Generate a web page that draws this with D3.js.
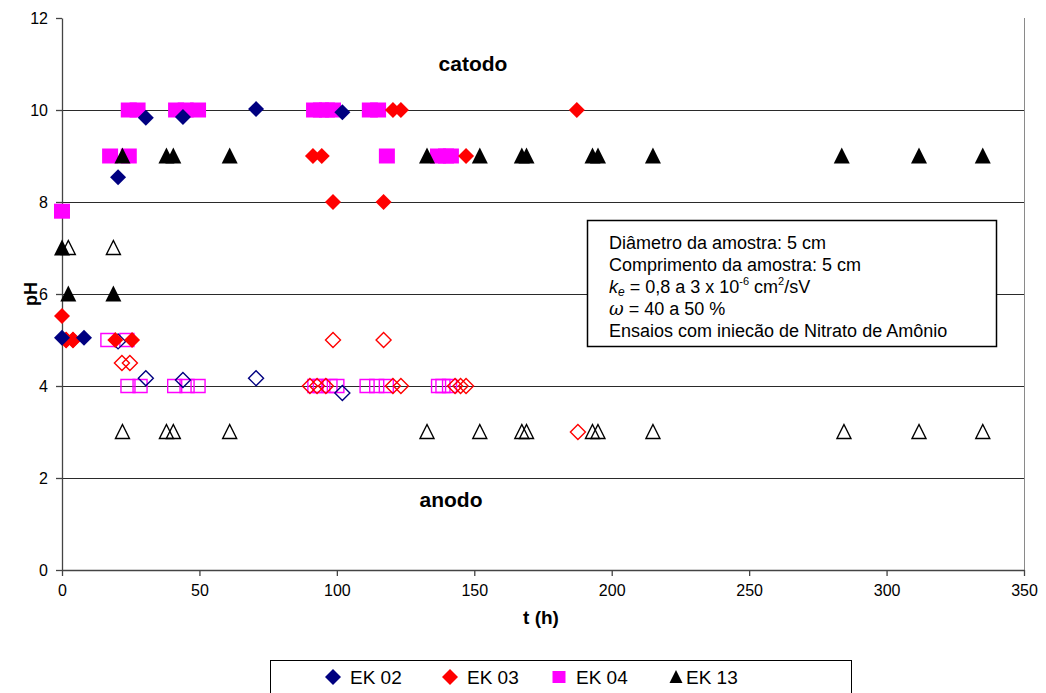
<!DOCTYPE html>
<html>
<head>
<meta charset="utf-8">
<script src="https://cdn.jsdelivr.net/npm/d3@7"></script>
<style>
  body { margin: 0; background: #fff; }
  svg { font-family: Arial, "Liberation Sans", sans-serif; }
  .tick text { font-size: 16px; fill: #000; }
  .lbl { font-weight: bold; fill: #000; }
</style>
</head>
<body>
<div id="chart"></div>
<script>
// EK 02 (diamante azul) - catodo (cheio) e anodo (vazado)
var ek02T = [0, 8, 20.4, 30.5, 44, 70.6, 102];
var ek02Cat = [5.05, 5.05, 8.54, 9.83, 9.85, 10.02, 9.95];
var ek02AnT = [20.4, 30.5, 44, 70.6, 102];
var ek02An = [4.97, 4.17, 4.13, 4.17, 3.85];

// EK 03 (diamante vermelho)
var ek03T = [0, 1.5, 4, 19.4, 25.5, 91.3, 94.5, 98.6, 117, 120.4, 123.3, 147, 187.3];
var ek03Cat = [5.52, 5, 5, 5, 5, 9, 9, 8, 8, 10, 10, 9, 10];
var ek03AnT = [1.5, 4, 21.8, 24.7, 90.2, 92.8, 96, 98.6, 117, 120.4, 123.3, 143, 145, 147, 187.7];
var ek03An = [5, 5, 4.5, 4.5, 4, 4, 4, 5, 5, 4, 4, 4, 4, 4, 3];

// EK 04 (quadrado magenta)
var ek04T = [0, 17.5, 24.3, 24.3, 27.5, 41.5, 45, 49.5, 91.7, 94.2, 96.4, 98.6, 112, 115, 118.2, 136.8, 139.7, 141.5];
var ek04Cat = [7.8, 9, 9, 10, 10, 10, 10, 10, 10, 10, 10, 10, 10, 10, 9, 9, 9, 9];
var ek04AnT = [16.7, 23.6, 24, 28.4, 41, 45.5, 49.5, 92, 94, 97.5, 100, 111, 114.5, 118, 137, 138.6, 141];
var ek04An = [5, 5, 4, 4, 4, 4, 4, 4, 4, 4, 4, 4, 4, 4, 4, 4, 4];

// EK 13 (triangulo preto)
var ek13T = [0, 2.3, 18.7, 22, 38, 40.5, 61, 132.8, 152, 167.3, 169, 193, 195, 215, 283.7, 311.8, 335];
var ek13Cat = [7, 6, 6, 9, 9, 9, 9, 9, 9, 9, 9, 9, 9, 9, 9, 9, 9];
var ek13AnT = [2.3, 18.7, 22, 38, 40.5, 61, 132.8, 152, 167.3, 169, 193, 195, 215, 284.5, 311.8, 335];
var ek13An = [7, 7, 3, 3, 3, 3, 3, 3, 3, 3, 3, 3, 3, 3, 3, 3];

var xTicks = [0, 50, 100, 150, 200, 250, 300, 350];
var yTicks = [0, 2, 4, 6, 8, 10, 12];
var gridY = [2, 4, 6, 8, 10];

var seriesNames = ["EK 02", "EK 03", "EK 04", "EK 13"];
var seriesColors = ["#000080", "#ff0000", "#ff00ff", "#000000"];
var seriesShapes = ["diamond", "diamond", "square", "triangle"];

var infoLines = [
  "Diâmetro da amostra: 5 cm",
  "Comprimento da amostra: 5 cm",
  "ke",
  "omega",
  "Ensaios com injeção de Nitrato de Amônio"
];

function markerPath(shape, s) {
  if (shape === "diamond") {
    return "M0," + (-s) + "L" + s + ",0L0," + s + "L" + (-s) + ",0Z";
  }
  if (shape === "square") {
    return "M" + (-s) + "," + (-s + 0.5) + "H" + s + "V" + (s - 0.5) + "H" + (-s) + "Z";
  }
  return "M0," + (-s) + "L" + (s - 0.5) + "," + (s - 1) + "L" + (-s + 0.5) + "," + (s - 1) + "Z";
}

function ChartPH() {
  this.width = 1046;
  this.height = 693;
  this.svg = d3.select("#chart").append("svg")
    .attr("width", this.width).attr("height", this.height);

  this.x = d3.scaleLinear().domain([0, 350]).range([62, 1024]);
  this.y = d3.scaleLinear().domain([0, 12]).range([570, 18]);

  this.drawAxes = function () {
    var x = this.x, y = this.y, svg = this.svg;

    svg.append("g").selectAll("line").data(gridY).enter()
      .append("line")
      .attr("x1", x(0)).attr("x2", x(350))
      .attr("y1", function (d) { return y(d) + 0.5; })
      .attr("y2", function (d) { return y(d) + 0.5; })
      .attr("stroke", "#2a2a2a").attr("stroke-width", 1)
      .attr("shape-rendering", "crispEdges");

    // right border of plot area
    svg.append("line")
      .attr("x1", x(350) + 0.5).attr("x2", x(350) + 0.5)
      .attr("y1", y(12)).attr("y2", y(0))
      .attr("stroke", "#8a8a8a").attr("stroke-width", 1)
      .attr("shape-rendering", "crispEdges");

    var xAxis = d3.axisBottom(x).tickValues(xTicks).tickSize(6).tickPadding(9).tickSizeOuter(0);
    var yAxis = d3.axisLeft(y).tickValues(yTicks).tickSize(6).tickPadding(8).tickSizeOuter(0);

    var gx = svg.append("g").attr("transform", "translate(0," + y(0) + ")").call(xAxis);
    var gy = svg.append("g").attr("transform", "translate(" + x(0) + ",0)").call(yAxis);
    [gx, gy].forEach(function (g) {
      g.selectAll("path, line").attr("stroke", "#444").attr("stroke-width", 1.3);
      g.selectAll("text").attr("font-family", "Arial, 'Liberation Sans', sans-serif");
    });

    svg.append("text").attr("class", "lbl")
      .attr("transform", "translate(37," + y(6) + ")rotate(-90)")
      .attr("text-anchor", "middle").attr("font-size", 18).text("pH");
    svg.append("text").attr("class", "lbl")
      .attr("x", 541).attr("y", 624)
      .attr("text-anchor", "middle").attr("font-size", 19).text("t (h)");

    svg.append("text").attr("class", "lbl")
      .attr("x", 473).attr("y", 71)
      .attr("text-anchor", "middle").attr("font-size", 21).text("catodo");
    svg.append("text").attr("class", "lbl")
      .attr("x", 451).attr("y", 507)
      .attr("text-anchor", "middle").attr("font-size", 21).text("anodo");
  };

  this.drawSeries = function (ts, vs, i, hollow) {
    var x = this.x, y = this.y;
    var shape = seriesShapes[i], color = seriesColors[i];
    var size = shape === "triangle" ? 8.5 : 8;
    if (hollow) size = shape === "square" ? 7 : 7.5;
    var pts = ts.map(function (t, k) { return { t: t, v: vs[k] }; });
    this.svg.append("g").selectAll("path").data(pts).enter()
      .append("path")
      .attr("d", markerPath(shape, size))
      .attr("transform", function (d) { return "translate(" + x(d.t) + "," + y(d.v) + ")"; })
      .attr("fill", hollow ? "none" : color)
      .attr("stroke", hollow ? color : "none")
      .attr("stroke-width", 1.4);
  };

  this.drawInfo = function () {
    var g = this.svg.append("g");
    g.append("defs").append("clipPath").attr("id", "infoClip")
      .append("rect").attr("x", 588).attr("y", 221).attr("width", 408).attr("height", 116);
    g.append("rect")
      .attr("x", 587.5).attr("y", 220.5).attr("width", 409).attr("height", 126)
      .attr("fill", "#fff").attr("stroke", "#000").attr("stroke-width", 1.5);
    var t = g.append("g").attr("clip-path", "url(#infoClip)")
      .attr("font-size", 18).attr("fill", "#000");
    var x0 = 609, y0 = 249, dy = 22;
    t.append("text").attr("x", x0).attr("y", y0).text(infoLines[0]);
    t.append("text").attr("x", x0).attr("y", y0 + dy).text(infoLines[1]);
    var k = t.append("text").attr("x", x0).attr("y", y0 + 2 * dy);
    k.append("tspan").attr("font-style", "italic").text("k");
    k.append("tspan").attr("font-style", "italic").attr("font-size", 12).attr("dy", 3).text("e");
    k.append("tspan").attr("dy", -3).text(" = 0,8 a 3 x 10");
    k.append("tspan").attr("font-size", 11).attr("dy", -8).text("-6");
    k.append("tspan").attr("dy", 8).text(" cm");
    k.append("tspan").attr("font-size", 11).attr("dy", -8).text("2");
    k.append("tspan").attr("dy", 8).text("/sV");
    var w = t.append("text").attr("x", x0).attr("y", y0 + 3 * dy);
    w.append("tspan").attr("font-style", "italic").attr("font-family", "'DejaVu Serif', serif").text("ω");
    w.append("tspan").text(" = 40 a 50 %");
    t.append("text").attr("x", x0).attr("y", y0 + 4 * dy).text(infoLines[4]);
  };

  this.drawLegend = function () {
    var g = this.svg.append("g");
    g.append("rect").attr("x", 270.5).attr("y", 660.5).attr("width", 581).attr("height", 45)
      .attr("fill", "#fff").attr("stroke", "#000").attr("stroke-width", 1);
    var xs = [333, 450, 559, 676];
    var item = g.selectAll("g.item").data(seriesNames).enter()
      .append("g").attr("class", "item")
      .attr("transform", function (d, i) { return "translate(" + xs[i] + ",677)"; });
    item.append("path")
      .attr("d", function (d, i) {
        var s = seriesShapes[i];
        return markerPath(s, s === "square" ? 6.5 : (s === "triangle" ? 7 : 8));
      })
      .attr("fill", function (d, i) { return seriesColors[i]; });
    item.append("text")
      .attr("x", function (d, i) { return i === 3 ? 10 : 17; })
      .attr("y", 7)
      .attr("font-size", 19)
      .text(function (d) { return d; });
  };
}

var chart = new ChartPH();
chart.drawAxes();
chart.drawSeries(ek13AnT, ek13An, 3, true);
chart.drawSeries(ek04AnT, ek04An, 2, true);
chart.drawSeries(ek03AnT, ek03An, 1, true);
chart.drawSeries(ek02AnT, ek02An, 0, true);
chart.drawSeries(ek04T, ek04Cat, 2, false);
chart.drawSeries(ek03T, ek03Cat, 1, false);
chart.drawSeries(ek13T, ek13Cat, 3, false);
chart.drawSeries(ek02T, ek02Cat, 0, false);
chart.drawInfo();
chart.drawLegend();
</script>
</body>
</html>
